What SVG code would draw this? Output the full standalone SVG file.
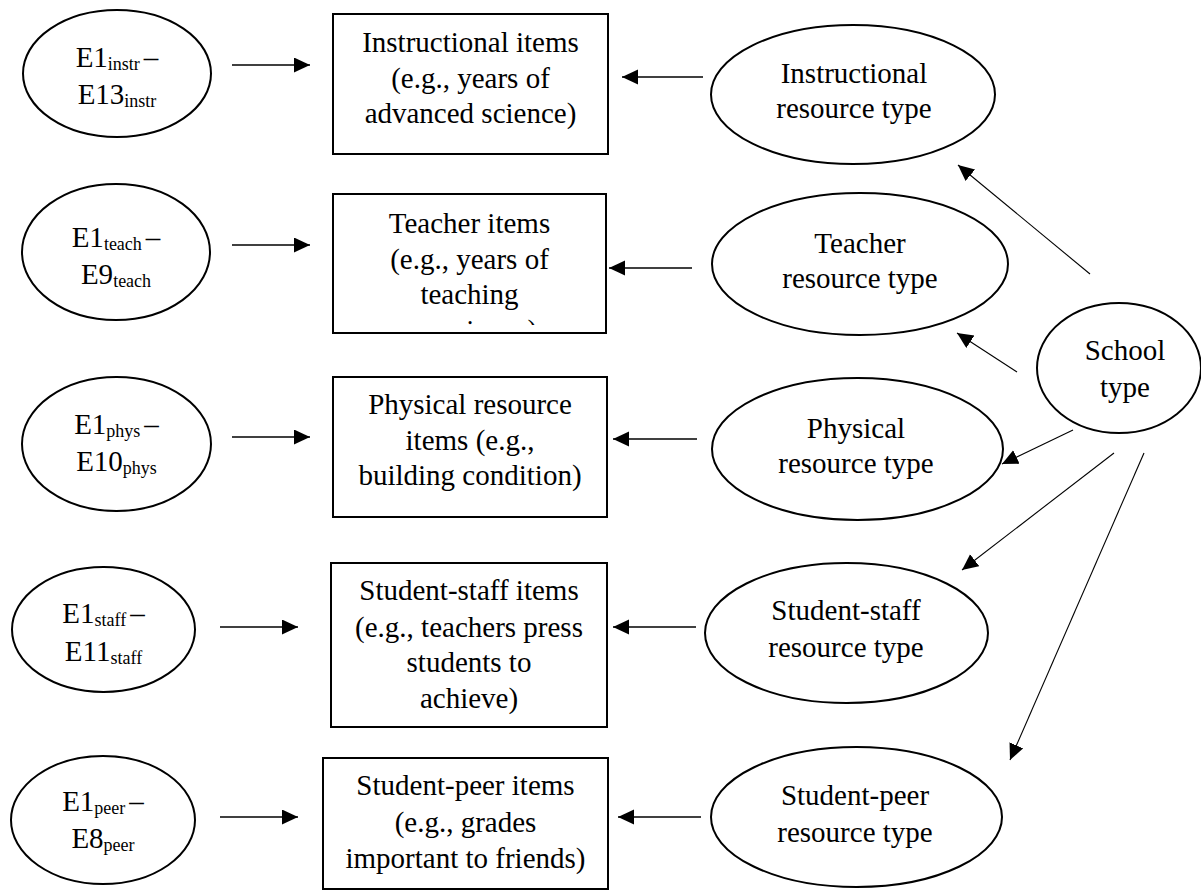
<svg xmlns="http://www.w3.org/2000/svg" width="1201" height="892" viewBox="0 0 1201 892">
<style>
text{font-family:"Liberation Serif","Times New Roman",serif;font-size:29px;fill:#000;text-anchor:middle}
.sub{font-size:18px}
.node{fill:#fff;stroke:#000;stroke-width:2}
.conn{stroke:#000;stroke-width:1.3;fill:none;marker-end:url(#ah)}
.thin{stroke-width:1.1}
</style>
<defs>
<marker id="ah" markerUnits="userSpaceOnUse" markerWidth="17" markerHeight="16" refX="16" refY="7.5" orient="auto">
<path d="M0,0 L16,7.5 L0,15 z" fill="#000"/>
</marker>
<clipPath id="clipTeach"><rect x="333" y="194" width="273" height="131"/></clipPath>
</defs>
<rect width="1201" height="892" fill="#fff"/>

<g id="e-instr">
<ellipse class="node" cx="117" cy="73.5" rx="94" ry="63.5"/>
<text x="117" y="67">E1<tspan class="sub" dy="3">instr</tspan><tspan dx="4" dy="-3">–</tspan></text>
<text x="117" y="104">E13<tspan class="sub" dy="3">instr</tspan></text>
</g>
<g id="e-teach">
<ellipse class="node" cx="116" cy="252" rx="94" ry="68"/>
<text x="116" y="247">E1<tspan class="sub" dy="3">teach</tspan><tspan dx="4" dy="-3">–</tspan></text>
<text x="116" y="284">E9<tspan class="sub" dy="3">teach</tspan></text>
</g>
<g id="e-phys">
<ellipse class="node" cx="116.5" cy="444" rx="94.5" ry="67"/>
<text x="116.5" y="434">E1<tspan class="sub" dy="3">phys</tspan><tspan dx="4" dy="-3">–</tspan></text>
<text x="116.5" y="471">E10<tspan class="sub" dy="3">phys</tspan></text>
</g>
<g id="e-staff">
<ellipse class="node" cx="103.5" cy="629.5" rx="91.5" ry="62.5"/>
<text x="103.5" y="623">E1<tspan class="sub" dy="3">staff</tspan><tspan dx="4" dy="-3">–</tspan></text>
<text x="103.5" y="661">E11<tspan class="sub" dy="3">staff</tspan></text>
</g>
<g id="e-peer">
<ellipse class="node" cx="103" cy="820" rx="92" ry="64"/>
<text x="103" y="811">E1<tspan class="sub" dy="3">peer</tspan><tspan dx="4" dy="-3">–</tspan></text>
<text x="103" y="848">E8<tspan class="sub" dy="3">peer</tspan></text>
</g>

<g id="box-instr">
<rect class="node" x="333" y="14" width="275" height="140"/>
<text x="470.5" y="52">Instructional items</text>
<text x="470.5" y="88">(e.g., years of</text>
<text x="470.5" y="123">advanced science)</text>
</g>
<g id="box-teach">
<rect class="node" x="333" y="194" width="273" height="139"/>
<text x="469.5" y="233">Teacher items</text>
<text x="469.5" y="269">(e.g., years of</text>
<text x="469.5" y="304">teaching</text>
<text x="469.5" y="340" clip-path="url(#clipTeach)">experience)</text>
</g>
<g id="box-phys">
<rect class="node" x="333" y="377" width="274" height="140"/>
<text x="470" y="414">Physical resource</text>
<text x="470" y="450">items (e.g.,</text>
<text x="470" y="485">building condition)</text>
</g>
<g id="box-staff">
<rect class="node" x="331" y="563" width="276" height="164"/>
<text x="469" y="600">Student-staff items</text>
<text x="469" y="637">(e.g., teachers press</text>
<text x="469" y="672">students to</text>
<text x="469" y="708">achieve)</text>
</g>
<g id="box-peer">
<rect class="node" x="323" y="758" width="285" height="131"/>
<text x="465.5" y="795">Student-peer items</text>
<text x="465.5" y="832">(e.g., grades</text>
<text x="465.5" y="868">important to friends)</text>
</g>

<g id="r-instr">
<ellipse class="node" cx="853" cy="94.5" rx="142" ry="69.5"/>
<text x="854" y="83">Instructional</text>
<text x="854" y="118">resource type</text>
</g>
<g id="r-teach">
<ellipse class="node" cx="860" cy="264" rx="148" ry="71"/>
<text x="860" y="253">Teacher</text>
<text x="860" y="288">resource type</text>
</g>
<g id="r-phys">
<ellipse class="node" cx="857.5" cy="449" rx="145.5" ry="71"/>
<text x="856" y="438">Physical</text>
<text x="856" y="473">resource type</text>
</g>
<g id="r-staff">
<ellipse class="node" cx="846.5" cy="633" rx="141.5" ry="70"/>
<text x="846" y="620">Student-staff</text>
<text x="846" y="657">resource type</text>
</g>
<g id="r-peer">
<ellipse class="node" cx="856.5" cy="817" rx="145.5" ry="70"/>
<text x="855" y="805">Student-peer</text>
<text x="855" y="842">resource type</text>
</g>
<g id="school">
<ellipse class="node" cx="1119" cy="368" rx="82" ry="65"/>
<text x="1125" y="360">School</text>
<text x="1125" y="397">type</text>
</g>

<g id="connectors">
<line class="conn" x1="232" y1="65" x2="310" y2="65"/>
<line class="conn" x1="232" y1="245" x2="310" y2="245"/>
<line class="conn" x1="232" y1="437" x2="310" y2="437"/>
<line class="conn" x1="220" y1="627" x2="298" y2="627"/>
<line class="conn" x1="220" y1="817" x2="298" y2="817"/>
<line class="conn" x1="703" y1="77" x2="622" y2="77"/>
<line class="conn" x1="692" y1="268" x2="609" y2="268"/>
<line class="conn" x1="697" y1="439" x2="613" y2="439"/>
<line class="conn" x1="696" y1="627" x2="613" y2="627"/>
<line class="conn" x1="701" y1="817" x2="618" y2="817"/>
<line class="conn thin" x1="1090" y1="274" x2="958" y2="165"/>
<line class="conn thin" x1="1017" y1="372" x2="957" y2="333"/>
<line class="conn thin" x1="1073" y1="430" x2="1002" y2="464"/>
<line class="conn thin" x1="1114" y1="453" x2="962" y2="570"/>
<line class="conn thin" x1="1144" y1="453" x2="1010" y2="760"/>
</g>
</svg>
